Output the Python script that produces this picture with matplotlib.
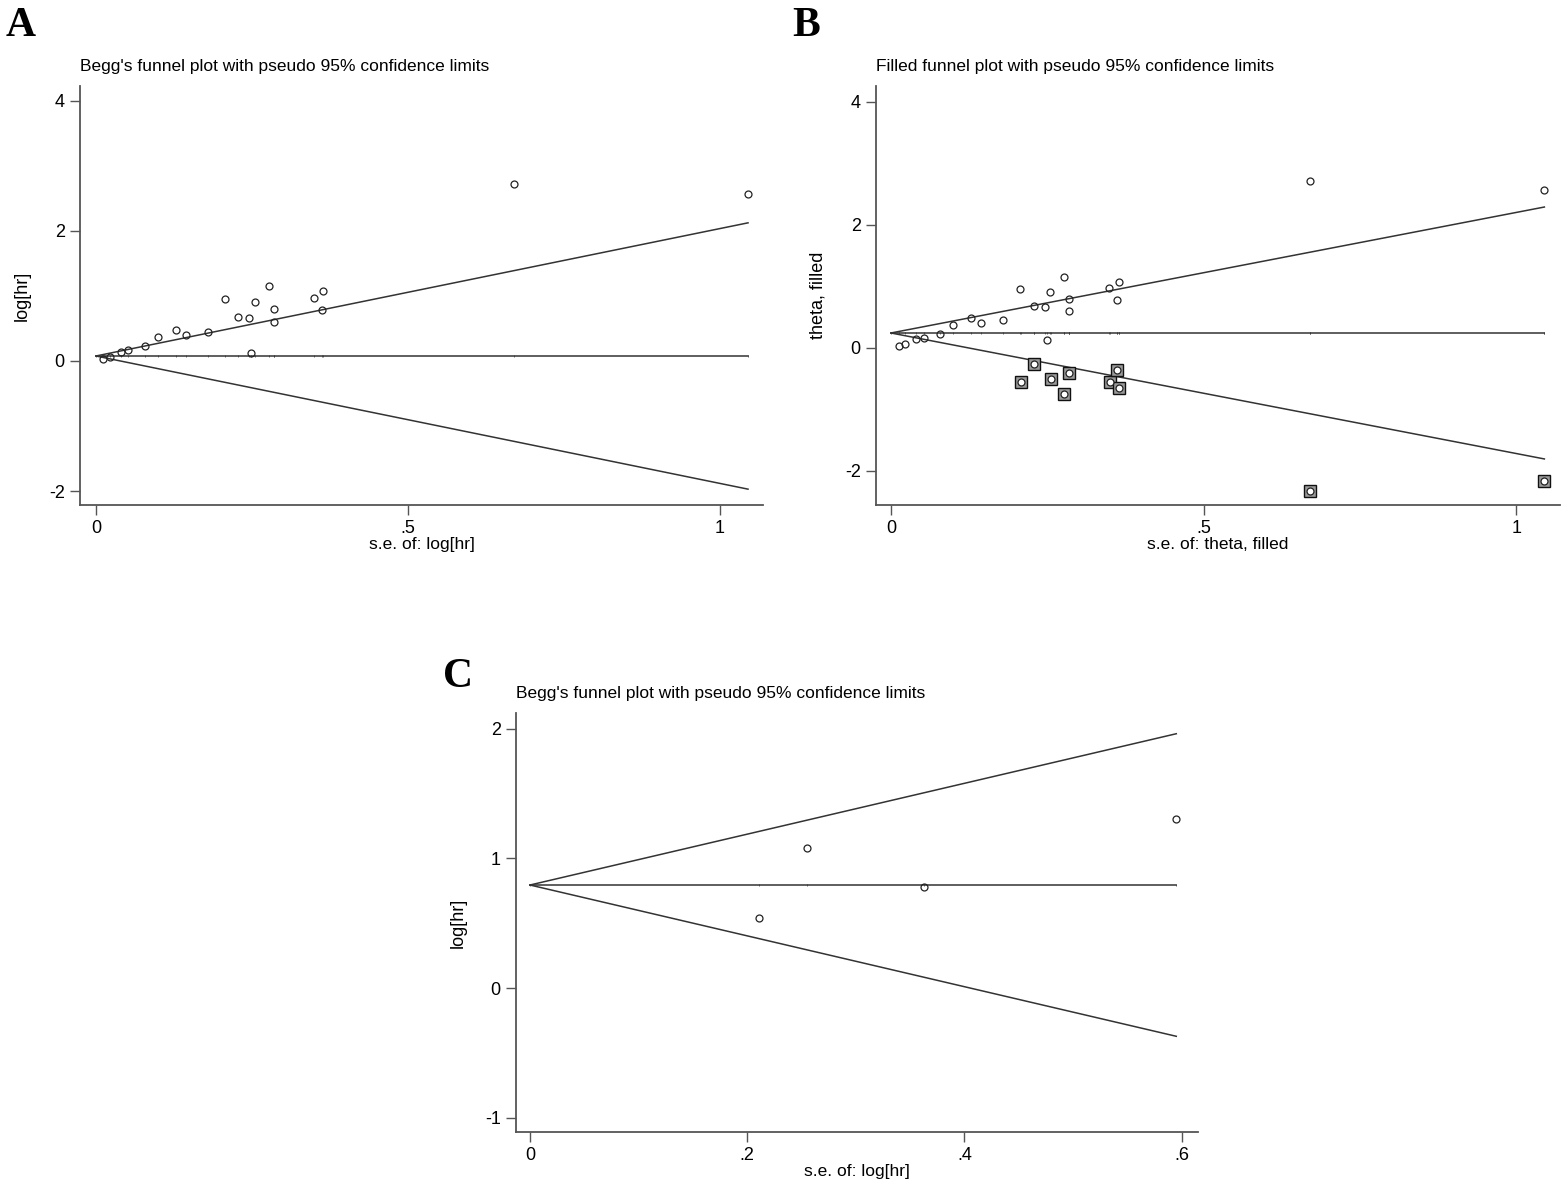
import numpy as np
import matplotlib
matplotlib.use("Agg")
import matplotlib.pyplot as plt

plt.rcParams["font.family"] = ["Liberation Sans", "DejaVu Sans"]

# Panel A : observed studies (Begg)
a_se = [0.012, 0.022, 0.040, 0.052, 0.079, 0.099, 0.128, 0.144, 0.179, 0.207, 0.228,
        0.246, 0.249, 0.255, 0.277, 0.285, 0.285, 0.349, 0.362, 0.364, 0.670, 1.045]
a_loghr = [0.03, 0.06, 0.14, 0.17, 0.235, 0.37, 0.48, 0.40, 0.45, 0.96, 0.68,
           0.66, 0.13, 0.91, 1.15, 0.80, 0.595, 0.97, 0.78, 1.07, 2.72, 2.57]
a_theta = 0.077

# Panel B : trim and fill
b_theta = 0.244
b_fill_se = [0.208, 0.228, 0.256, 0.277, 0.285, 0.350, 0.362, 0.364, 0.670, 1.045]
b_fill_val = [-0.55, -0.255, -0.50, -0.74, -0.40, -0.56, -0.36, -0.65, -2.33, -2.16]

# Panel C
c_se = [0.2107, 0.2546, 0.3628, 0.595]
c_loghr = [0.542, 1.077, 0.776, 1.305]
c_theta = 0.794

W, H = 1567, 1185
fig = plt.figure(figsize=(W / 100, H / 100), dpi=100)


def box(l, t, r, b):
    return [l / W, 1 - b / H, (r - l) / W, (b - t) / H]


def funnel(ax, se, theta):
    s = np.linspace(0, max(se), 2)
    ax.plot(s, theta + 1.96 * s, color="#333333", lw=1.1)
    ax.plot(s, theta - 1.96 * s, color="#333333", lw=1.1)
    pts = np.concatenate([[0], np.sort(se)])
    ax.plot(pts, np.full(len(pts), theta), color="#333333", lw=1.1,
            marker="|", ms=1.5, mew=0.5)


def style(ax, xlim, ylim, xt, xtl, yt, ytl, xlab, ylab, title):
    ax.set_xlim(*xlim)
    ax.set_ylim(*ylim)
    for s in ["top", "right"]:
        ax.spines[s].set_visible(False)
    for s in ["left", "bottom"]:
        ax.spines[s].set_color("#555555")
        ax.spines[s].set_linewidth(1.3)
    ax.set_xticks(xt)
    ax.set_xticklabels(xtl)
    ax.set_yticks(yt)
    ax.set_yticklabels(ytl)
    ax.tick_params(length=7, width=1, color="#555555", labelsize=13, pad=4)
    ax.set_xlabel(xlab, fontsize=12.5, labelpad=0)
    ax.set_ylabel(ylab, fontsize=13, labelpad=13)
    ax.set_title(title, fontsize=12.5, loc="left", x=0.0, pad=11)


# A
axA = fig.add_axes(box(80, 86, 763, 505))
funnel(axA, a_se, a_theta)
axA.plot(a_se, a_loghr, "o", mfc="none", mec="#222222", ms=5, mew=0.9)
style(axA, (-0.0256, 1.069), (-2.215, 4.23), [0, 0.5, 1], ["0", ".5", "1"],
      [-2, 0, 2, 4], ["-2", "0", "2", "4"], "s.e. of: log[hr]", "log[hr]",
      "Begg's funnel plot with pseudo 95% confidence limits")

# B
axB = fig.add_axes(box(876, 86, 1560, 505))
funnel(axB, a_se + b_fill_se, b_theta)
axB.plot(b_fill_se, b_fill_val, "s", mfc="#9a9a9a", mec="#111111", ms=8.5, mew=1.0)
axB.plot(a_se, a_loghr, "o", mfc="none", mec="#222222", ms=5, mew=0.9)
axB.plot(b_fill_se, b_fill_val, "o", mfc="white", mec="#222222", ms=5, mew=0.9)
style(axB, (-0.024, 1.070), (-2.553, 4.26), [0, 0.5, 1], ["0", ".5", "1"],
      [-2, 0, 2, 4], ["-2", "0", "2", "4"], "s.e. of: theta, filled", "theta, filled",
      "Filled funnel plot with pseudo 95% confidence limits")

# C
axC = fig.add_axes(box(516, 713, 1198, 1132))
funnel(axC, c_se, c_theta)
axC.plot(c_se, c_loghr, "o", mfc="none", mec="#222222", ms=5, mew=0.9)
style(axC, (-0.0129, 0.615), (-1.11, 2.12), [0, 0.2, 0.4, 0.6], ["0", ".2", ".4", ".6"],
      [-1, 0, 1, 2], ["-1", "0", "1", "2"], "s.e. of: log[hr]", "log[hr]",
      "Begg's funnel plot with pseudo 95% confidence limits")

for lab, x, y in [("A", 6, 7), ("B", 792, 7), ("C", 443, 658)]:
    fig.text(x / W, 1 - y / H, lab, fontsize=30, fontweight="bold",
             family="Liberation Serif", va="top", ha="left")

fig.savefig("out.png", dpi=100)
